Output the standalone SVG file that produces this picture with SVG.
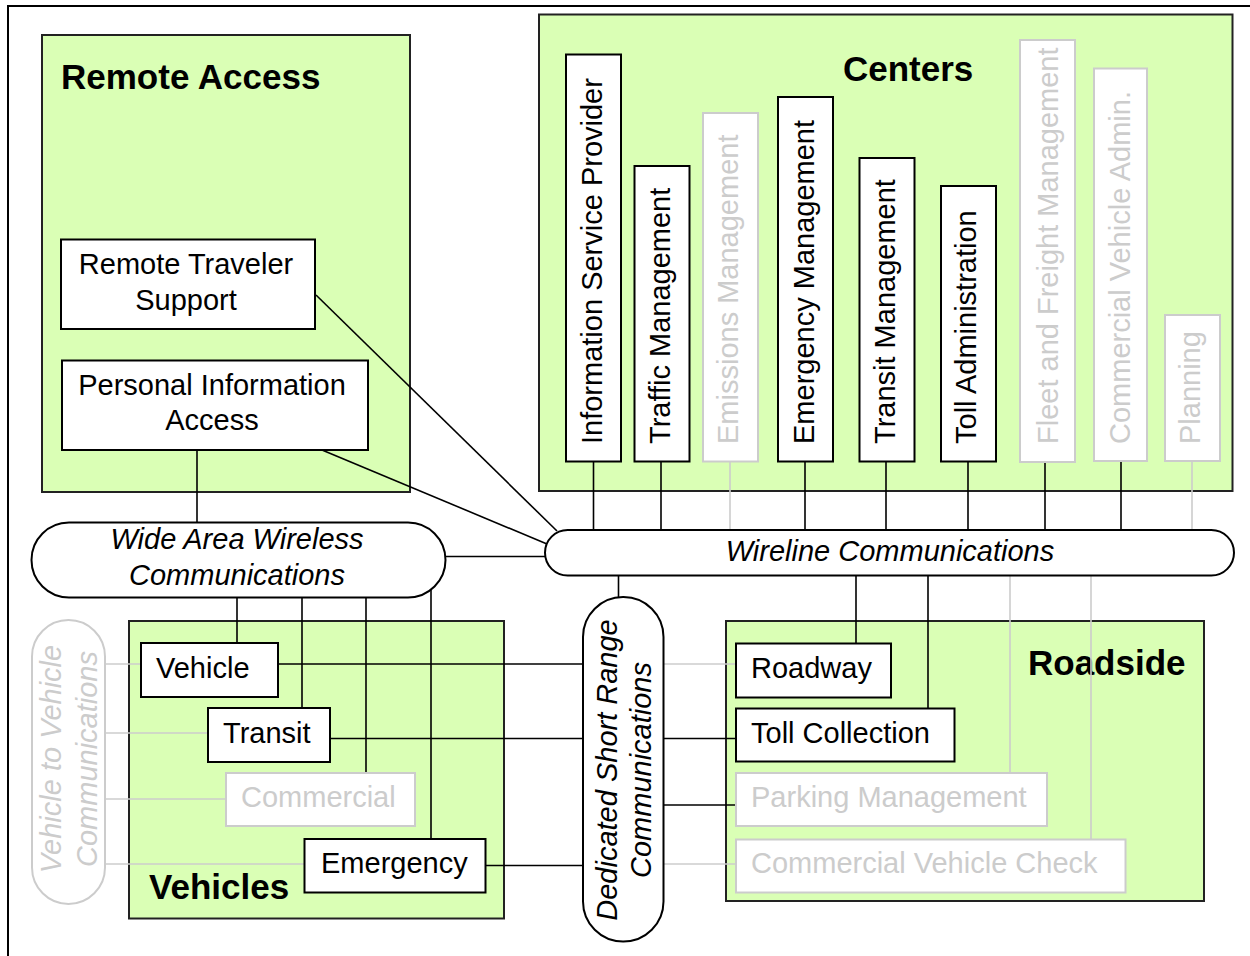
<svg xmlns="http://www.w3.org/2000/svg" width="1250" height="956" viewBox="0 0 1250 956">
<style>
text{font-family:"Liberation Sans",Arial,Helvetica,sans-serif;font-size:29px;fill:#000}
.title{font-weight:bold;font-size:35px}
.it{font-style:italic}
.g{fill:#cccccc}
.zone{fill:#daffb5;stroke:#222;stroke-width:2}
.box{fill:#fff;stroke:#000;stroke-width:2}
.gbox{fill:#fff;stroke:#cccccc;stroke-width:2}
.pill{fill:#fff;stroke:#000;stroke-width:2}
.gpill{fill:#fff;stroke:#cccccc;stroke-width:2}
.c{fill:none;stroke:#000;stroke-width:1.6}
.gc{fill:none;stroke:#cccccc;stroke-width:1.6}
.mid{text-anchor:middle}
</style>
<rect width="1250" height="956" fill="#fff"/>
<path d="M8,956 V6 H1250" fill="none" stroke="#000" stroke-width="2"/>

<g id="zone-remote-access">
<rect class="zone" x="42" y="35" width="368" height="457"/>
<text class="title" x="61" y="89">Remote Access</text>
</g>
<g id="zone-centers">
<rect class="zone" x="539" y="14.5" width="693.5" height="476.5"/>
<text class="title" x="843" y="81">Centers</text>
</g>
<g id="zone-vehicles">
<rect class="zone" x="129" y="621" width="375" height="297.5"/>
<text class="title" x="149" y="899">Vehicles</text>
</g>
<g id="zone-roadside">
<rect class="zone" x="726" y="621" width="478" height="280"/>
<text class="title" x="1028" y="675">Roadside</text>
</g>

<g id="connectors">
<path class="c" d="M197,450 V523"/>
<path class="c" d="M316,295 L557,531"/>
<path class="c" d="M322,450 L547,544"/>
<path class="c" d="M445,556.5 H546"/>
<path class="c" d="M593.5,461.5 V531"/>
<path class="c" d="M661,461.5 V531"/>
<path class="gc" d="M730,461.5 V531"/>
<path class="c" d="M805,461.5 V531"/>
<path class="c" d="M886,461.5 V531"/>
<path class="c" d="M968,461.5 V531"/>
<path class="c" d="M1045,462 V531"/>
<path class="c" d="M1121,461 V531"/>
<path class="gc" d="M1192,461 V531"/>
<path class="c" d="M618.5,575 V598"/>
<path class="c" d="M856,575 V643.5"/>
<path class="c" d="M928,575 V708.5"/>
<path class="gc" d="M1010,575 V773"/>
<path class="gc" d="M1091,575 V839.5"/>
<path class="c" d="M237,597 V643"/>
<path class="c" d="M302,597 V708"/>
<path class="c" d="M366,597 V773"/>
<path class="c" d="M431,585 V839"/>
<path class="c" d="M278,664 H584"/>
<path class="c" d="M330,738.5 H584"/>
<path class="c" d="M485.5,865.5 H584"/>
<path class="gc" d="M663,664 H736"/>
<path class="c" d="M663,738.5 H736"/>
<path class="c" d="M663,805 H736"/>
<path class="gc" d="M663,864 H736"/>
<path class="gc" d="M104,664 H141"/>
<path class="gc" d="M104,733 H208"/>
<path class="gc" d="M104,799 H226"/>
<path class="gc" d="M104,864 H304.5"/>
</g>

<g id="remote-traveler-support">
<rect class="box" x="61" y="239.5" width="254" height="89.5"/>
<text class="mid" x="186" y="274">Remote Traveler</text>
<text class="mid" x="186" y="310">Support</text>
</g>
<g id="personal-information-access">
<rect class="box" x="62" y="360.5" width="306" height="89.5"/>
<text class="mid" x="212" y="395">Personal Information</text>
<text class="mid" x="212" y="430">Access</text>
</g>

<g id="information-service-provider">
<rect class="box" x="566" y="54.5" width="55" height="407"/>
<text transform="translate(602,444) rotate(-90)">Information Service Provider</text>
</g>
<g id="traffic-management">
<rect class="box" x="634.5" y="166" width="55" height="295.5"/>
<text transform="translate(670,444) rotate(-90)">Traffic Management</text>
</g>
<g id="emissions-management">
<rect class="gbox" x="703" y="113" width="55" height="348.5"/>
<text class="g" transform="translate(738,444) rotate(-90)">Emissions Management</text>
</g>
<g id="emergency-management">
<rect class="box" x="778" y="97" width="55" height="364.5"/>
<text transform="translate(814,444) rotate(-90)">Emergency Management</text>
</g>
<g id="transit-management">
<rect class="box" x="859.5" y="158" width="55" height="303.5"/>
<text transform="translate(895,444) rotate(-90)">Transit Management</text>
</g>
<g id="toll-administration">
<rect class="box" x="941" y="186" width="55" height="275.5"/>
<text transform="translate(976,444) rotate(-90)">Toll Administration</text>
</g>
<g id="fleet-and-freight-management">
<rect class="gbox" x="1020" y="40" width="55" height="422"/>
<text class="g" transform="translate(1058,444) rotate(-90)">Fleet and Freight Management</text>
</g>
<g id="commercial-vehicle-admin">
<rect class="gbox" x="1094" y="68.5" width="53" height="392.5"/>
<text class="g" transform="translate(1130,444) rotate(-90)">Commercial Vehicle Admin.</text>
</g>
<g id="planning">
<rect class="gbox" x="1165" y="315" width="55" height="146"/>
<text class="g" transform="translate(1200,444) rotate(-90)">Planning</text>
</g>

<g id="wide-area-wireless-communications">
<rect class="pill" x="31.5" y="522.5" width="414" height="75" rx="37.5"/>
<text class="it mid" x="237" y="549">Wide Area Wireless</text>
<text class="it mid" x="237" y="585">Communications</text>
</g>
<g id="wireline-communications">
<rect class="pill" x="545" y="530" width="689" height="45.5" rx="22.7"/>
<text class="it mid" x="890" y="561">Wireline Communications</text>
</g>
<g id="vehicle-to-vehicle-communications">
<rect class="gpill" x="32" y="620" width="73" height="284" rx="36.5"/>
<text class="it mid g" transform="translate(68.5,759) rotate(-90)" y="-8">Vehicle to Vehicle</text>
<text class="it mid g" transform="translate(68.5,759) rotate(-90)" y="28.5">Communications</text>
</g>
<g id="dedicated-short-range-communications">
<rect class="pill" x="583" y="597" width="80.5" height="344.5" rx="40"/>
<text class="it mid" transform="translate(623,770) rotate(-90)" y="-6">Dedicated Short Range</text>
<text class="it mid" transform="translate(623,770) rotate(-90)" y="28">Communications</text>
</g>

<g id="vehicle">
<rect class="box" x="141" y="643" width="137" height="54"/>
<text x="156" y="678">Vehicle</text>
</g>
<g id="transit">
<rect class="box" x="208" y="708" width="122" height="54"/>
<text x="223" y="742.5">Transit</text>
</g>
<g id="commercial">
<rect class="gbox" x="226" y="773" width="189" height="53"/>
<text class="g" x="241" y="807">Commercial</text>
</g>
<g id="emergency">
<rect class="box" x="304.5" y="839" width="181" height="53.5"/>
<text x="321" y="873">Emergency</text>
</g>

<g id="roadway">
<rect class="box" x="736" y="643.5" width="155" height="54"/>
<text x="751" y="677.5">Roadway</text>
</g>
<g id="toll-collection">
<rect class="box" x="736" y="708.5" width="218.5" height="53"/>
<text x="751" y="742.5">Toll Collection</text>
</g>
<g id="parking-management">
<rect class="gbox" x="736" y="773" width="311" height="53"/>
<text class="g" x="751" y="807">Parking Management</text>
</g>
<g id="commercial-vehicle-check">
<rect class="gbox" x="736" y="839.5" width="389.5" height="53"/>
<text class="g" x="751" y="873">Commercial Vehicle Check</text>
</g>
</svg>
